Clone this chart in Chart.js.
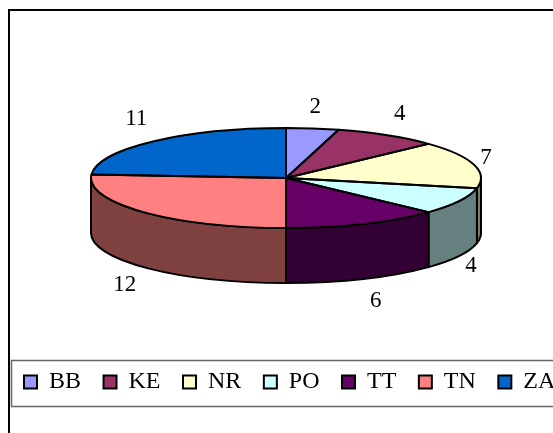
<!DOCTYPE html>
<html>
<head>
<meta charset="utf-8">
<script src="https://cdn.jsdelivr.net/npm/chart.js@4/dist/chart.umd.min.js"></script>
<style>
    html, body { margin: 0; padding: 0; background: #fff; overflow: hidden; }
    canvas { display: block; }
</style>
</head>
<body>
<canvas id="pieChart" width="700" height="433" style="width:700px;height:433px"></canvas>
<script>
const categories = ['BB', 'KE', 'NR', 'PO', 'TT', 'TN', 'ZA'];
const values = [2, 4, 7, 4, 6, 12, 11];
const sliceColors = ['#9999FF', '#993366', '#FFFFCC', '#CCFFFF', '#660066', '#FF8080', '#0066CC'];

// flattened pie geometry on the page
const CX = 286;
const CY = 178;
const RX = 195;
const RY = 50;
const DEPTH = 55;
const FONT_FAMILY = '"Liberation Serif", "Times New Roman", serif';
// small hand adjustments of the value labels, [dx, dy]
const labelNudges = [[0, 3], [2, 0], [-7, 0], [-6, -2], [4, -1], [-4, 1], [-3, -4]];

// wall colour is the slice colour at half brightness
function darken(hex) {
    const n = parseInt(hex.slice(1), 16);
    const r = (n >> 16) >> 1;
    const g = ((n >> 8) & 255) >> 1;
    const b = (n & 255) >> 1;
    return `rgb(${r}, ${g}, ${b})`;
}

const pie3d = {
    id: 'pie3d',
    beforeDraw(chart) {
        const ctx = chart.ctx;
        ctx.save();
        // outer frame, runs off the window on the right and bottom
        ctx.strokeStyle = '#000';
        ctx.lineWidth = 2;
        ctx.strokeRect(9, 10, 800, 600);
        // legend box
        ctx.strokeStyle = '#666';
        ctx.lineWidth = 1.5;
        ctx.strokeRect(11.5, 360.5, 800, 46);
        ctx.restore();
    },
    beforeDatasetsDraw(chart) {
        const ctx = chart.ctx;
        const arcs = chart.getDatasetMeta(0).data;

        // side walls, only the front half of the rim shows
        ctx.save();
        ctx.lineWidth = 2;
        ctx.lineJoin = 'round';
        ctx.strokeStyle = '#000';
        arcs.forEach((arc, i) => {
            const from = Math.max(arc.startAngle, 0);
            const to = Math.min(arc.endAngle, Math.PI);
            if (to <= from) return;
            ctx.beginPath();
            ctx.ellipse(CX, CY, RX, RY, 0, from, to);
            ctx.ellipse(CX, CY + DEPTH, RX, RY, 0, to, from, true);
            ctx.closePath();
            ctx.fillStyle = darken(sliceColors[i]);
            ctx.fill();
            ctx.stroke();
        });
        ctx.restore();

        // squash the library's round pie into the top face
        const first = arcs[0];
        ctx.save();
        ctx.translate(CX, CY);
        ctx.scale(1, RY / RX);
        ctx.translate(-first.x, -first.y);
    },
    afterDatasetsDraw(chart) {
        const ctx = chart.ctx;
        const arcs = chart.getDatasetMeta(0).data;
        ctx.restore();

        // outlines drawn unscaled so the line weight stays even
        ctx.save();
        ctx.lineWidth = 2;
        ctx.lineJoin = 'round';
        ctx.strokeStyle = '#000';
        arcs.forEach(arc => {
            ctx.beginPath();
            ctx.moveTo(CX, CY);
            ctx.ellipse(CX, CY, RX, RY, 0, arc.startAngle, arc.endAngle);
            ctx.closePath();
            ctx.stroke();
        });

        // value labels sit just outside the rim
        ctx.fillStyle = '#000';
        ctx.font = `23px ${FONT_FAMILY}`;
        ctx.textAlign = 'center';
        ctx.textBaseline = 'middle';
        arcs.forEach((arc, i) => {
            const mid = (arc.startAngle + arc.endAngle) / 2;
            const x = CX + (RX + 20) * Math.cos(mid) + labelNudges[i][0];
            let y = CY + (RY + 25) * Math.sin(mid) + labelNudges[i][1];
            if (Math.sin(mid) > 0) y += DEPTH;
            ctx.fillText(String(values[i]), x, y);
        });
        ctx.restore();
    }
};

new Chart(document.getElementById('pieChart'), {
    type: 'pie',
    data: {
        labels: categories,
        datasets: [{
            data: values,
            backgroundColor: sliceColors,
            borderWidth: 0,
            radius: RX,
            clip: false
        }]
    },
    options: {
        responsive: false,
        animation: false,
        layout: { padding: { left: 1.5, right: 0, top: 0, bottom: 29 } },
        plugins: {
            tooltip: { enabled: false },
            legend: {
                position: 'bottom',
                align: 'start',
                labels: {
                    boxWidth: 13,
                    boxHeight: 13,
                    padding: 22.5,
                    color: '#000',
                    font: { family: FONT_FAMILY, size: 24 },
                    generateLabels(chart) {
                        return Chart.overrides.pie.plugins.legend.labels.generateLabels(chart).map(item => ({
                            ...item,
                            lineWidth: 2,
                            strokeStyle: '#000'
                        }));
                    }
                }
            }
        }
    },
    plugins: [pie3d]
});
</script>
</body>
</html>
